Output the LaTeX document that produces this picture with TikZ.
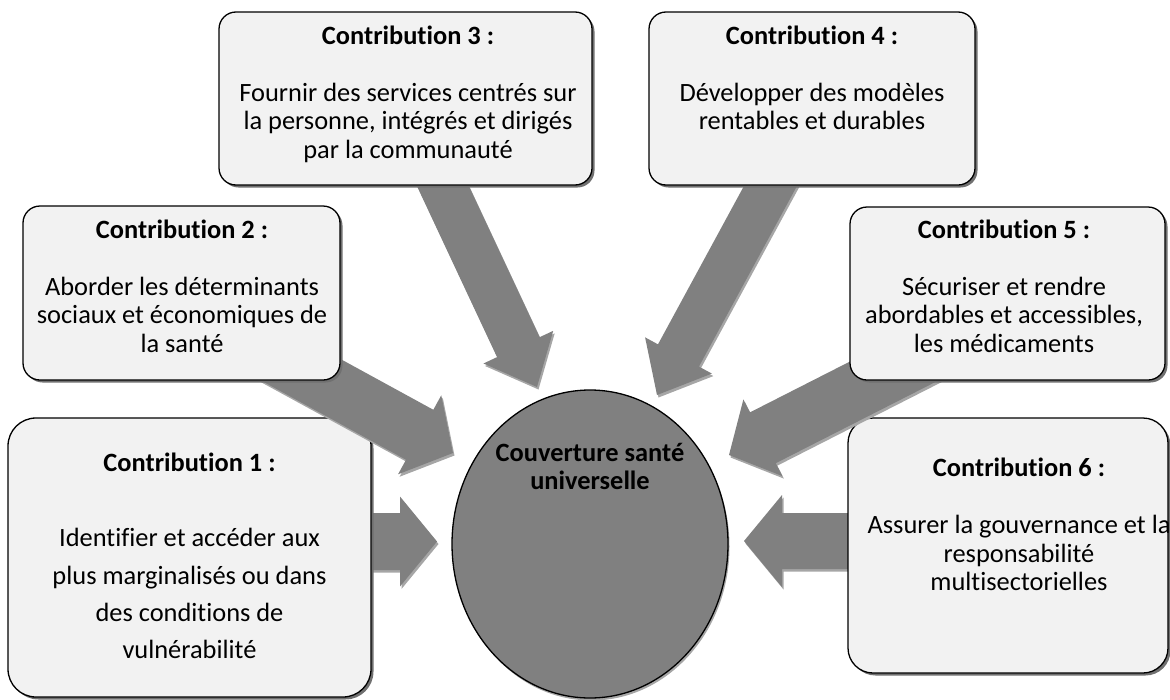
\documentclass[tikz,border=0pt]{standalone}
\usepackage{fontspec}
\setmainfont{Carlito}[RawFeature={-liga;-clig;-calt;-dlig}]
\usetikzlibrary{calc,shapes.geometric,shadows}
\definecolor{boxfill}{HTML}{F2F2F2}
\definecolor{arrowgray}{HTML}{808080}
\definecolor{arrowshadow}{HTML}{A6A6A6}
\definecolor{boxshadow}{HTML}{707070}
\newcommand\blockarrow[6]{% #1 name, #2 start, #3 tip, #4 half shaft, #5 half head, #6 head length
  \coordinate (#1b) at ($(#3)!#6!(#2)$);
  \fill[arrowshadow, transform canvas={shift={(1.5pt,-2.5pt)}}]
    ($(#2)!#4!90:(#3)$) -- ($(#1b)!#4!90:(#3)$) -- ($(#1b)!#5!90:(#3)$) -- (#3)
    -- ($(#1b)!#5!-90:(#3)$) -- ($(#1b)!#4!-90:(#3)$) -- ($(#2)!#4!-90:(#3)$) -- cycle;
  \fill[arrowgray]
    ($(#2)!#4!90:(#3)$) -- ($(#1b)!#4!90:(#3)$) -- ($(#1b)!#5!90:(#3)$) -- (#3)
    -- ($(#1b)!#5!-90:(#3)$) -- ($(#1b)!#4!-90:(#3)$) -- ($(#2)!#4!-90:(#3)$) -- cycle;
}
\tikzset{
  cbox/.style={rectangle, draw=black, line width=1.3pt, fill=boxfill,
    drop shadow={shadow xshift=2.5pt, shadow yshift=-2.5pt, fill=boxshadow, opacity=1}},
  ctext/.style={align=center, inner sep=0pt, anchor=north,
    font=\fontsize{26.4pt}{28.5pt}\selectfont},
  ctextwide/.style={ctext, font=\fontsize{26.4pt}{37.4pt}\selectfont},
}
\newcommand\fstrut{\rule{0pt}{22pt}}
\begin{document}
\begin{tikzpicture}[x=1pt,y=-1pt]
\useasboundingbox (0,0) rectangle (1170,699);
% arrow end points
\coordinate (s1) at (300,541.5);  \coordinate (e1) at (437,541.5);
\coordinate (s6) at (950,541);    \coordinate (e6) at (744,541);
\coordinate (s2) at (250,342);    \coordinate (e2) at (453,453);
\coordinate (s5) at (961,337);    \coordinate (e5) at (729,455);
\coordinate (s3) at (426,150);    \coordinate (e3) at (537,387);
\coordinate (s4) at (790,150);    \coordinate (e4) at (657,395);
% horizontal arrows
\blockarrow{a1}{s1}{e1}{28.5pt}{45pt}{37pt}
\blockarrow{a6}{s6}{e6}{28pt}{46pt}{38pt}
% lower boxes
\node[cbox, minimum width=363pt, minimum height=279pt, rounded corners=28pt] (b1) at (189.5,557.5) {};
\node[cbox, minimum width=320pt, minimum height=255pt, rounded corners=25pt] (b6) at (1008,545.5) {};
% diagonal arrows
\blockarrow{a2}{s2}{e2}{28.5pt}{45pt}{38pt}
\blockarrow{a5}{s5}{e5}{28.5pt}{43pt}{38pt}
\blockarrow{a3}{s3}{e3}{23.5pt}{38.5pt}{44pt}
\blockarrow{a4}{s4}{e4}{23.3pt}{38pt}{45pt}
% upper boxes
\node[cbox, minimum width=317pt, minimum height=174pt, rounded corners=17pt] (b2) at (181.5,293) {};
\node[cbox, minimum width=373pt, minimum height=173pt, rounded corners=17pt] (b3) at (405.5,98.5) {};
\node[cbox, minimum width=326pt, minimum height=173pt, rounded corners=17pt] (b4) at (812,98.5) {};
\node[cbox, minimum width=315pt, minimum height=173pt, rounded corners=17pt] (b5) at (1007.5,293.5) {};
% centre
\node[ellipse, draw=black, line width=1.3pt, fill=arrowgray, minimum width=276pt, minimum height=308pt,
  drop shadow={shadow xshift=1.5pt, shadow yshift=-2.5pt, fill=arrowshadow, opacity=1}] (c) at (590,544) {};
% texts
\node[ctext] (t3) at (408,22) {\fstrut\textbf{Contribution 3 :}\\\mbox{}\\Fournir des services centrés sur\\la personne, intégrés et dirigés\\par la communauté};
\node[ctext] (t4) at (812,22) {\fstrut\textbf{Contribution 4 :}\\\mbox{}\\Développer des modèles\\rentables et durables};
\node[ctext] (t2) at (182,216) {\fstrut\textbf{Contribution 2 :}\\\mbox{}\\Aborder les déterminants\\sociaux et économiques de\\la santé};
\node[ctext] (t5) at (1004,216) {\fstrut\textbf{Contribution 5 :}\\\mbox{}\\Sécuriser et rendre\\abordables et accessibles,\\les médicaments};
\node[ctextwide] (t1) at (189.5,449.7) {\fstrut\textbf{Contribution 1 :}\\\mbox{}\\Identifier et accéder aux\\plus marginalisés ou dans\\des conditions de\\vulnérabilité};
\node[ctext] (t6) at (1019,454.7) {\fstrut\textbf{Contribution 6 :}\\\mbox{}\\Assurer la gouvernance et la\\responsabilité\\multisectorielles};
\node[ctext, font=\bfseries\fontsize{26.4pt}{28pt}\selectfont] (tc) at (590,439.7) {\fstrut Couverture santé\\universelle};
\end{tikzpicture}
\end{document}
